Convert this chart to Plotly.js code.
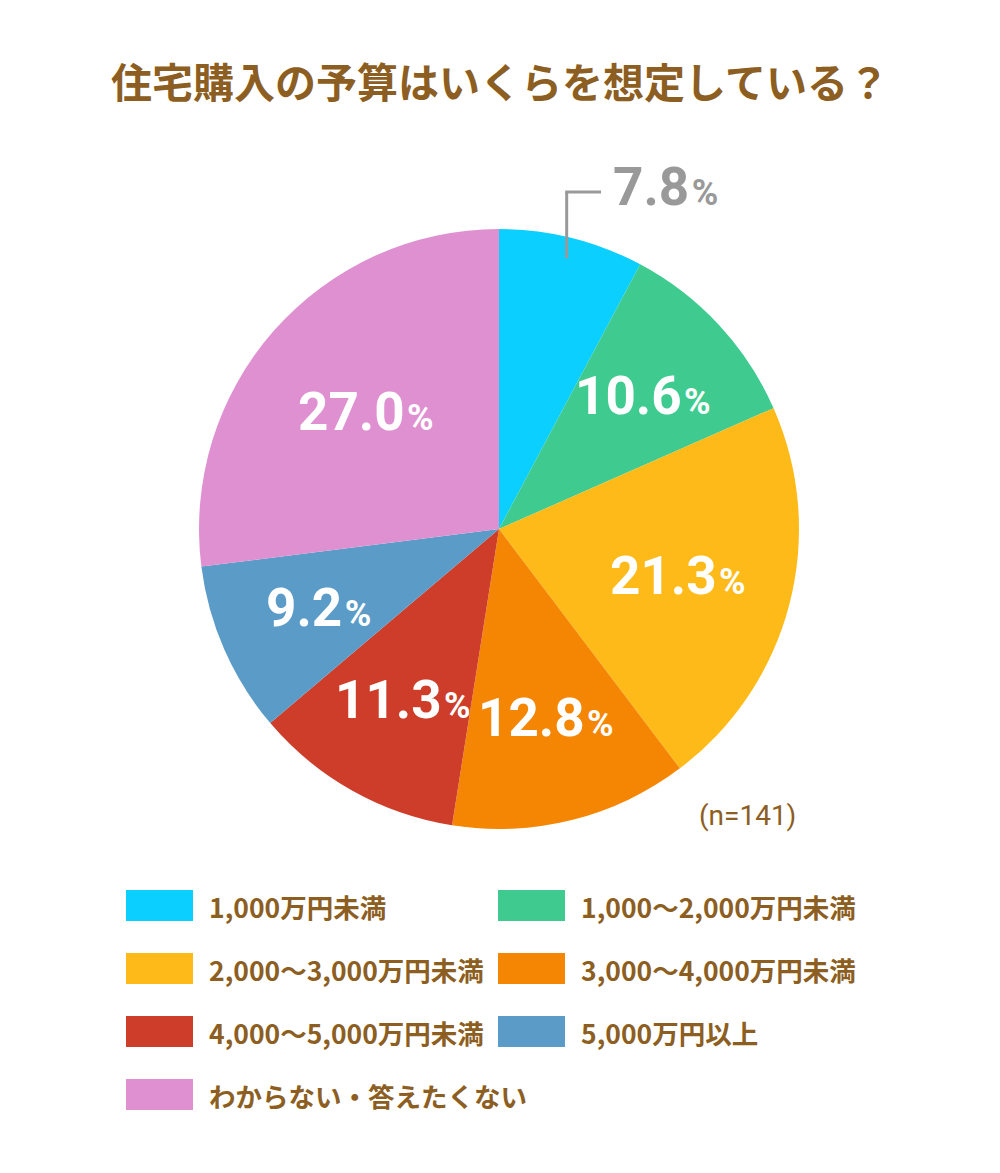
<!DOCTYPE html>
<html>
<head>
<meta charset="utf-8">
<script src="https://cdn.plot.ly/plotly-3.0.1.min.js"></script>
<style>
  html, body { margin: 0; padding: 0; background: #fff; }
  #chart { width: 1000px; height: 1173px; }
</style>
</head>
<body>
<div id="chart"></div>
<script>
// 住宅購入の予算 (n=141)
const categories = [
    '1,000万円未満',
    '1,000～2,000万円未満',
    '2,000～3,000万円未満',
    '3,000～4,000万円未満',
    '4,000～5,000万円未満',
    '5,000万円以上',
    'わからない・答えたくない'
];
const shares = [7.8, 10.6, 21.3, 12.8, 11.3, 9.2, 27.0];
const colors = ['#0BCFFF', '#3FCB8F', '#FDBA19', '#F48603', '#CD3D2A', '#5B9BC7', '#DF90D0'];

const W = 1000, H = 1173;
const brown = '#8C5E22';
const numFont = 'Roboto, "DejaVu Sans", sans-serif';
const jpFont = '"Noto Sans CJK JP", "Noto Sans", sans-serif';

// pie placement in pixels
const cx = 499, cy = 529, R = 300;
let px = x => x / W;
let py = y => 1 - y / H;

let annotations = [];
let shapes = [];

// labels: number big, % small
let lblText = v => `<b>${v.toFixed(1)}</b><span style="font-size:10px"> </span><span style="font-size:36px"><b>%</b></span>`;

// labels inside slices, put on the centroid of each sector
let total = shares.reduce((a, b) => a + b, 0);
let cum = 0;
shares.forEach((v, i) => {
    let theta = v / total * 2 * Math.PI;
    let mid = (cum + v / 2) / total * 2 * Math.PI;
    cum += v;
    if (i === 0) {
        // small slice: label outside with a bent leader line
        let r0 = 0.93 * R;
        let x0 = cx + r0 * Math.sin(mid), y0 = cy - r0 * Math.cos(mid);
        let yTop = 192, xEnd = 601;
        shapes.push({type: 'line', xref: 'paper', yref: 'paper',
            x0: px(x0), y0: py(y0), x1: px(x0), y1: py(yTop),
            line: {color: '#999999', width: 3}});
        shapes.push({type: 'line', xref: 'paper', yref: 'paper',
            x0: px(x0 - 1.5), y0: py(yTop), x1: px(xEnd), y1: py(yTop),
            line: {color: '#999999', width: 3}});
        annotations.push({xref: 'paper', yref: 'paper', x: px(xEnd + 10), y: py(yTop - 5),
            xanchor: 'left', yanchor: 'middle', showarrow: false, text: lblText(v),
            font: {family: numFont, size: 53, color: '#999999'}});
        return;
    }
    let r = 4 * R * Math.sin(theta / 2) / (3 * theta);
    annotations.push({xref: 'paper', yref: 'paper',
        x: px(cx + r * Math.sin(mid)), y: py(cy - r * Math.cos(mid)),
        xanchor: 'center', yanchor: 'middle', showarrow: false, text: lblText(v),
        font: {family: numFont, size: 53, color: '#ffffff'}});
});

// (n=141)
annotations.push({xref: 'paper', yref: 'paper', x: px(747), y: py(815),
    xanchor: 'center', yanchor: 'middle', showarrow: false, text: '(n=141)',
    font: {family: numFont, size: 28, color: brown}});

// hand made legend, two columns
const colSq = [126, 498], colTx = [207, 579];
const row0 = 905.5, rowStep = 63;
categories.forEach((c, i) => {
    let col = i % 2, row = Math.floor(i / 2);
    let yc = row0 + row * rowStep;
    shapes.push({type: 'rect', xref: 'paper', yref: 'paper',
        x0: px(colSq[col]), x1: px(colSq[col] + 67), y0: py(yc - 15.5), y1: py(yc + 15.5),
        fillcolor: colors[i], line: {width: 0}});
    annotations.push({xref: 'paper', yref: 'paper', x: px(colTx[col]), y: py(yc + 1),
        xanchor: 'left', yanchor: 'middle', showarrow: false, text: '<b>' + c + '</b>',
        font: {family: jpFont, size: 26.5, color: brown}});
});

let data = [{
    type: 'pie',
    labels: categories,
    values: shares,
    sort: false,
    direction: 'clockwise',
    rotation: 0,
    marker: {colors: colors, line: {width: 0}},
    textinfo: 'none',
    hoverinfo: 'label+percent',
    showlegend: false,
    domain: {x: [px(cx - R), px(cx + R)], y: [py(cy + R), py(cy - R)]}
}];

let layout = {
    width: W, height: H,
    margin: {l: 0, r: 0, t: 0, b: 0},
    paper_bgcolor: '#ffffff',
    plot_bgcolor: '#ffffff',
    showlegend: false,
    title: {
        text: '<b>住宅購入の予算はいくらを想定している？</b>',
        font: {family: jpFont, size: 41, color: brown},
        x: 0.5, xanchor: 'center', y: py(84), yanchor: 'middle'
    },
    annotations: annotations,
    shapes: shapes
};

Plotly.newPlot('chart', data, layout, {displayModeBar: false, staticPlot: true});
</script>
</body>
</html>
